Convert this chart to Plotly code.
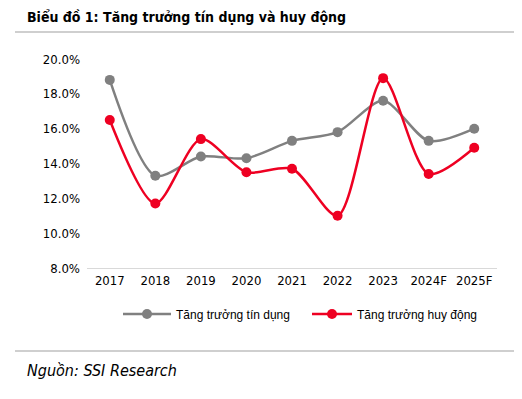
import plotly.graph_objects as go

categories = ["2017", "2018", "2019", "2020", "2021", "2022", "2023", "2024F", "2025F"]
tin_dung = [18.8, 13.3, 14.4, 14.3, 15.3, 15.8, 17.6, 15.3, 16.0]
huy_dong = [16.5, 11.7, 15.4, 13.5, 13.7, 11.0, 18.9, 13.4, 14.9]
y_ticks = [8, 10, 12, 14, 16, 18, 20]
y_tick_labels = ["8.0%", "10.0%", "12.0%", "14.0%", "16.0%", "18.0%", "20.0%"]

GRAY = "#808080"
RED = "#EE0022"
NARROW = "DejaVu Sans Condensed, Liberation Sans Narrow, sans-serif"
OFF = 8  # page body margin

fig = go.Figure()
fig.add_trace(go.Scatter(
    x=categories, y=tin_dung, name="Tăng trưởng tín dụng", legend="legend",
    mode="lines+markers", line=dict(color=GRAY, width=2.5, shape="spline", smoothing=0.8),
    marker=dict(color=GRAY, size=10), cliponaxis=False))
fig.add_trace(go.Scatter(
    x=categories, y=huy_dong, name="Tăng trưởng huy động", legend="legend2",
    mode="lines+markers", line=dict(color=RED, width=2.5, shape="spline", smoothing=0.8),
    marker=dict(color=RED, size=10), cliponaxis=False))

W, H = 522 - OFF, 399 - OFF
L, R, T, B = 87 - OFF, 33 - OFF, 59 - OFF, 139 - OFF
pw, ph = W - L - R, H - T - B

def px_x(p):
    return (p - OFF - L) / pw

def px_y(p):
    return (H - B - (p - OFF)) / ph

leg_font = dict(family="Liberation Sans, Arial, sans-serif", size=12, color="black")

fig.update_layout(
    width=W, height=H,
    margin=dict(l=L, r=R, t=T, b=B),
    paper_bgcolor="white", plot_bgcolor="white",
    showlegend=True,
    legend=dict(x=px_x(118), y=px_y(314), yanchor="middle", xanchor="left",
                font=leg_font, itemwidth=48, bgcolor="rgba(0,0,0,0)"),
    legend2=dict(x=px_x(307), y=px_y(314), yanchor="middle", xanchor="left",
                 font=leg_font, itemwidth=40, bgcolor="rgba(0,0,0,0)"),
    xaxis=dict(type="category", range=[-0.5, 8.5], showgrid=False, showline=True,
               linecolor="#D9D9D9", linewidth=1, ticks="",
               tickfont=dict(family=NARROW, size=13, color="black")),
    yaxis=dict(range=[8, 20], tickvals=y_ticks, ticktext=y_tick_labels, showgrid=False,
               zeroline=False, showline=False, ticks="", ticklabelstandoff=6,
               tickfont=dict(family=NARROW, size=13, color="black")),
    annotations=[
        dict(text="<b>Biểu đồ 1: Tăng trưởng tín dụng và huy động</b>", xref="paper", yref="paper",
             x=px_x(25), y=px_y(17), xanchor="left", yanchor="middle", showarrow=False,
             font=dict(family=NARROW, size=14, color="black")),
        dict(text="<i>Nguồn: SSI Research</i>", xref="paper", yref="paper",
             x=px_x(25), y=px_y(370), xanchor="left", yanchor="middle", showarrow=False,
             font=dict(family=NARROW, size=16, color="black")),
    ],
    shapes=[
        dict(type="line", xref="paper", yref="paper", x0=px_x(15), x1=px_x(530),
             y0=px_y(32), y1=px_y(32), line=dict(color="#BFBFBF", width=1.5)),
        dict(type="line", xref="paper", yref="paper", x0=px_x(15), x1=px_x(530),
             y0=px_y(351), y1=px_y(351), line=dict(color="#BFBFBF", width=1.5)),
    ],
)

fig.write_html("out.html")
